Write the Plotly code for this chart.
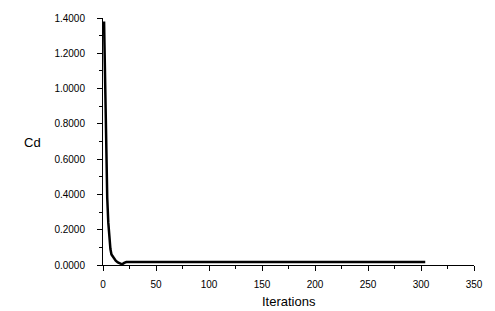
import plotly.graph_objects as go

iterations = [1, 2, 3, 4, 5, 6, 7, 8, 10, 12, 14, 16, 18, 20, 22, 50, 100, 150, 200, 250, 304]
cd = [1.38, 1.05, 0.64, 0.38, 0.24, 0.14, 0.09, 0.06, 0.04, 0.025, 0.015, 0.008, 0.004, 0.012, 0.017,
      0.017, 0.017, 0.017, 0.017, 0.017, 0.017]

x_ticks = [0, 50, 100, 150, 200, 250, 300, 350]
y_ticks = [0.0, 0.2, 0.4, 0.6, 0.8, 1.0, 1.2, 1.4]

fig = go.Figure(go.Scatter(x=iterations, y=cd, mode="lines",
                           line=dict(color="black", width=2.5), showlegend=False))

font = dict(family="Liberation Sans, Arial, sans-serif", size=10, color="black")

fig.update_layout(
    width=495, height=311,
    margin=dict(l=103, r=16, t=14, b=46),
    paper_bgcolor="white", plot_bgcolor="white",
    font=font,
    xaxis=dict(range=[0, 350], tickvals=x_ticks, ticks="outside", ticklen=5,
               tickcolor="black", showline=True, linecolor="black", linewidth=1,
               showgrid=False, zeroline=False, ticklabelstandoff=5,
               minor=dict(dtick=25, ticks="outside", ticklen=3, tickcolor="black")),
    yaxis=dict(range=[0, 1.4], tickvals=y_ticks, tickformat=".4f", ticks="outside",
               ticklen=5, tickcolor="black", showline=True, linecolor="black", linewidth=1,
               showgrid=False, zeroline=False, ticklabelstandoff=10,
               minor=dict(dtick=0.1, ticks="outside", ticklen=3, tickcolor="black")),
    annotations=[
        dict(text="Cd", xref="paper", yref="paper", x=-0.19, y=0.495, showarrow=False,
             xanchor="center", yanchor="middle", font=dict(size=13)),
        dict(text="Iterations", xref="paper", yref="paper", x=0.5, y=-0.11, showarrow=False,
             xanchor="center", yanchor="top", font=dict(size=13)),
    ],
)

fig.write_html("out.html")
